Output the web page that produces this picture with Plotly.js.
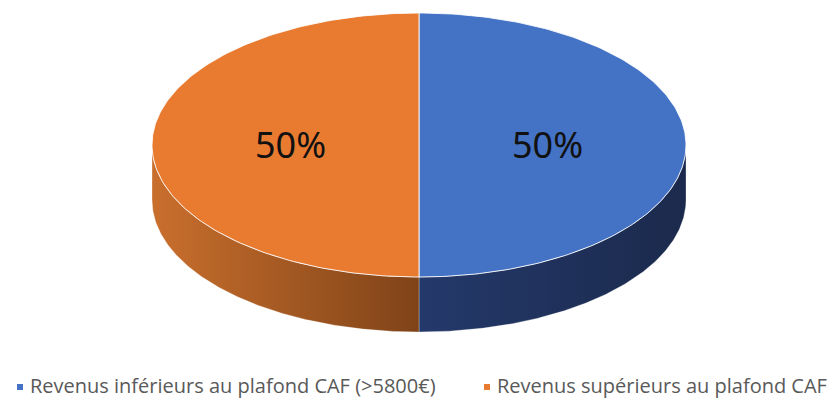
<!DOCTYPE html>
<html><head><meta charset="utf-8">
<script src="https://cdn.plot.ly/plotly-3.0.1.min.js"></script>
<style>html,body{margin:0;padding:0;background:#fff}</style>
</head><body>
<div id="chart" style="width:838px;height:400px"></div>
<script>
const labels = ["Revenus inférieurs au plafond CAF (>5800€)", "Revenus supérieurs au plafond CAF"];
const values = [50, 50];

const topColors = ["#4472C4", "#E97B31"];
const sideGrad = [["#24396B", "#1B2A4C"], ["#C96F2D", "#7F4318"]];

const W = 838, H = 400;
const cx = 419, cy = 145, rx = 267, ry = 132, depth = 55;
const N = 180;
function pt(t, dy) { return [cx + rx * Math.cos(t), cy + ry * Math.sin(t) + (dy || 0)]; }

const total = values.reduce((a, b) => a + b, 0);
const traces = [];
const tops = [];
const annotations = [];
let acc = 0;
values.forEach((v, i) => {
  const a0 = -Math.PI / 2 + 2 * Math.PI * acc / total;
  const a1 = -Math.PI / 2 + 2 * Math.PI * (acc + v) / total;
  acc += v;
  // top face
  const xs = [cx], ys = [cy];
  for (let k = 0; k <= N; k++) { const p = pt(a0 + (a1 - a0) * k / N); xs.push(p[0]); ys.push(p[1]); }
  xs.push(cx); ys.push(cy);
  tops.push({ x: xs, y: ys, type: "scatter", mode: "lines", fill: "toself", fillcolor: topColors[i],
    line: { color: "rgba(255,255,255,0.85)", width: 1 }, hoverinfo: "skip", showlegend: false });
  // visible side: angles in [0, PI] (front half), handling wrap-around
  const ranges = [];
  for (const off of [-2 * Math.PI, 0, 2 * Math.PI]) {
    const s0 = Math.max(a0, off), s1 = Math.min(a1, off + Math.PI);
    if (s1 > s0) ranges.push([s0, s1]);
  }
  ranges.forEach(([s0, s1]) => {
    const sx = [], sy = [];
    for (let k = 0; k <= N; k++) { const p = pt(s0 + (s1 - s0) * k / N); sx.push(p[0]); sy.push(p[1]); }
    for (let k = N; k >= 0; k--) { const p = pt(s0 + (s1 - s0) * k / N, depth); sx.push(p[0]); sy.push(p[1]); }
    sx.push(sx[0]); sy.push(sy[0]);
    const xmin = Math.min(...sx), xmax = Math.max(...sx);
    traces.push({ x: sx, y: sy, type: "scatter", mode: "lines", fill: "toself",
      fillgradient: { type: "horizontal", start: xmin, stop: xmax,
        colorscale: [[0, sideGrad[i][0]], [1, sideGrad[i][1]]] },
      line: { width: 0.6, color: "rgba(255,255,255,0.5)" }, hoverinfo: "skip", showlegend: false });
  });
  const am = (a0 + a1) / 2;
  const lp = [cx + 0.48 * rx * Math.cos(am), cy + 0.5 * ry * Math.sin(am) - 1];
  annotations.push({ x: lp[0], y: lp[1], xref: "x", yref: "y", showarrow: false,
    text: Math.round(100 * v / total) + "%", font: { family: "Noto Sans, Open Sans, sans-serif", size: 36, color: "#111" } });
});

// legend (Excel style, small squares)
const legX = [20, 487];
const shapes = [];
labels.forEach((lab, i) => {
  shapes.push({ type: "rect", xref: "x", yref: "y", x0: legX[i] - 3, x1: legX[i] + 3, y0: 384, y1: 390,
    fillcolor: topColors[i], line: { width: 0 } });
  annotations.push({ x: legX[i] + 9, y: 385, xref: "x", yref: "y", xanchor: "left", yanchor: "middle",
    borderpad: 0, showarrow: false, text: lab, font: { family: "Open Sans, sans-serif", size: 20, color: "#595959" } });
});

const layout = {
  width: W, height: H, margin: { l: 0, r: 0, t: 0, b: 0 },
  paper_bgcolor: "#fff", plot_bgcolor: "#fff", showlegend: false,
  xaxis: { range: [0, W], visible: false, fixedrange: true },
  yaxis: { range: [H, 0], visible: false, fixedrange: true },
  shapes: shapes, annotations: annotations, hovermode: false
};
Plotly.newPlot("chart", traces.concat(tops), layout, { displayModeBar: false, staticPlot: true });
</script>
</body></html>
